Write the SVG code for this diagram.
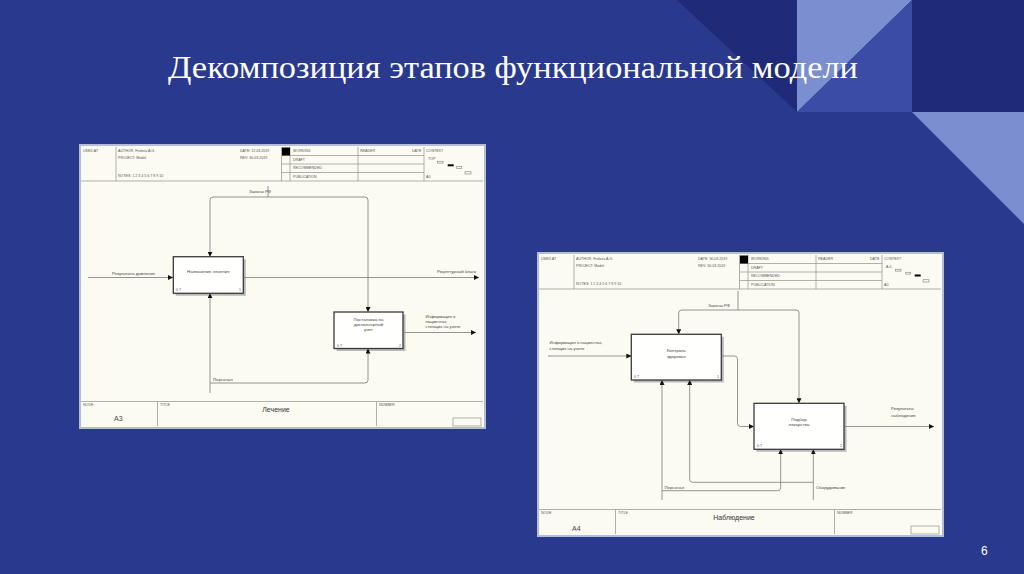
<svg xmlns="http://www.w3.org/2000/svg" width="1024" height="574" viewBox="0 0 1024 574">
<defs>
<style>
.bg{fill:#29398d}
.dk{fill:#1f2b78}
.lt{fill:#7a8ed0}
.md{fill:#3a4ca6}
.title{font-family:"Liberation Serif","Times New Roman",serif;font-size:32px;fill:#ffffff}
.pg{font-family:"Liberation Sans",Arial,sans-serif;font-size:12px;fill:#ffffff}
.sheet{fill:#fcfbf2;stroke:#b4bdd8;stroke-width:2}
.fl{stroke:#8f8f8f;stroke-width:0.7;fill:none}
.tiny{font-family:"Liberation Sans",Arial,sans-serif;font-size:4px;fill:#666}
.node{font-family:"Liberation Sans",Arial,sans-serif;font-size:7px;fill:#444}
.ttl{font-family:"Liberation Sans",Arial,sans-serif;font-size:7px;fill:#333;text-anchor:middle}
.box{fill:#fffffd;stroke:#3a3a3a;stroke-width:1.3}
.shadow{fill:#b9b9b9}
.bl{font-family:"Liberation Sans",Arial,sans-serif;font-size:4.4px;fill:#444;text-anchor:middle}
.cl{font-family:"Liberation Sans",Arial,sans-serif;font-size:3.6px;fill:#555}
.al{font-family:"Liberation Sans",Arial,sans-serif;font-size:4.3px;fill:#444}
.cn{fill:none;stroke:#7a7a7a;stroke-width:0.8}
</style>
<marker id="ah" markerUnits="userSpaceOnUse" markerWidth="5" markerHeight="5" refX="5" refY="2.5" orient="auto">
<path d="M0,0 L5,2.5 L0,5 z" fill="#111"/>
</marker>
</defs>

<rect class="bg" x="0" y="0" width="1024" height="574"/>
<g id="decor">
<polygon class="dk" points="677,0 797,0 797,112"/>
<polygon class="lt" points="797,0 912,0 797,112"/>
<polygon class="md" points="912,0 912,112 797,112"/>
<rect class="dk" x="912" y="0" width="112" height="112"/>
<polygon class="lt" points="912,112 1024,112 1024,224"/>
</g>

<text class="title" x="168" y="78" textLength="690" lengthAdjust="spacingAndGlyphs">Декомпозиция этапов функциональной модели</text>
<text class="pg" x="981" y="555">6</text>

<!-- Left diagram frame -->
<g id="frameA3">
<rect class="sheet" x="80" y="145" width="405" height="283"/>
<path class="fl" d="M81,181 H483 M116,147 V181 M281.5,147 V181 M290,147 V181 M358,147 V181 M424,147 V181 M281.5,155.5 H424 M281.5,164 H424 M281.5,172.5 H424 M81,401.5 H483 M157.5,401.5 V426 M376.5,401.5 V426"/>
<rect x="282" y="147.5" width="8" height="8" fill="#000"/>
<rect class="fl" x="453" y="418" width="28" height="8"/>
<rect class="fl" x="437.5" y="161.3" width="5.5" height="1.8"/>
<rect x="447.7" y="164.3" width="6" height="2" fill="#000"/>
<rect class="fl" x="456.7" y="166.5" width="5" height="2"/>
<rect class="fl" x="465" y="171.7" width="6" height="2.3"/>
<text class="cl" x="83" y="152">USED AT</text>
<text class="cl" x="118" y="152">AUTHOR: Frolova A.G.</text>
<text class="cl" x="118" y="159">PROJECT: Model</text>
<text class="cl" x="118" y="177">NOTES: 1 2 3 4 5 6 7 8 9 10</text>
<text class="cl" x="240" y="152">DATE: 12.03.2019</text>
<text class="cl" x="240" y="159">REV: 30.03.2019</text>
<text class="cl" x="293" y="152">WORKING</text>
<text class="cl" x="293" y="160.5">DRAFT</text>
<text class="cl" x="293" y="169">RECOMMENDED</text>
<text class="cl" x="293" y="177.5">PUBLICATION</text>
<text class="cl" x="360" y="152">READER</text>
<text class="cl" x="412" y="152">DATE</text>
<text class="cl" x="426" y="152">CONTEXT</text>
<text class="cl" x="428" y="160">TOP</text>
<text class="cl" x="426" y="178">A0</text>
<text class="cl" x="83" y="406">NODE</text>
<text class="cl" x="160" y="406">TITLE</text>
<text class="cl" x="379" y="406">NUMBER</text>
<text class="node" x="114" y="421">A3</text>
<text class="ttl" x="276" y="412">Лечение</text>
</g>

<!-- Right diagram frame -->
<g id="frameA4" transform="translate(458,108)">
<rect class="sheet" x="80" y="145" width="405" height="283"/>
<path class="fl" d="M81,181 H483 M116,147 V181 M281.5,147 V181 M290,147 V181 M358,147 V181 M424,147 V181 M281.5,155.5 H424 M281.5,164 H424 M281.5,172.5 H424 M81,401.5 H483 M157.5,401.5 V426 M376.5,401.5 V426"/>
<rect x="282" y="147.5" width="8" height="8" fill="#000"/>
<rect class="fl" x="453" y="418" width="28" height="8"/>
<rect class="fl" x="437.5" y="161.3" width="5.5" height="1.8"/>
<rect class="fl" x="447.7" y="164.3" width="5" height="1.8"/>
<rect x="456.7" y="166.5" width="6" height="2" fill="#000"/>
<rect class="fl" x="465" y="171.7" width="6" height="2.3"/>
<text class="cl" x="83" y="152">USED AT</text>
<text class="cl" x="118" y="152">AUTHOR: Frolova A.G.</text>
<text class="cl" x="118" y="159">PROJECT: Model</text>
<text class="cl" x="118" y="177">NOTES: 1 2 3 4 5 6 7 8 9 10</text>
<text class="cl" x="240" y="152">DATE: 30.03.2019</text>
<text class="cl" x="240" y="159">REV: 30.03.2019</text>
<text class="cl" x="293" y="152">WORKING</text>
<text class="cl" x="293" y="160.5">DRAFT</text>
<text class="cl" x="293" y="169">RECOMMENDED</text>
<text class="cl" x="293" y="177.5">PUBLICATION</text>
<text class="cl" x="360" y="152">READER</text>
<text class="cl" x="412" y="152">DATE</text>
<text class="cl" x="426" y="152">CONTEXT</text>
<text class="cl" x="428" y="160">A-0</text>
<text class="cl" x="426" y="178">A0</text>
<text class="cl" x="83" y="406">NODE</text>
<text class="cl" x="160" y="406">TITLE</text>
<text class="cl" x="379" y="406">NUMBER</text>
<text class="node" x="114" y="423">A4</text>
<text class="ttl" x="276" y="412">Наблюдение</text>
</g>

<!-- Left nodes -->
<g id="nodeA31">
<rect class="shadow" x="175.8" y="259.2" width="70" height="36.6"/>
<rect class="box" x="173.3" y="256.7" width="70" height="36.6"/>
<text class="bl" x="208.3" y="273">Назначение лечения</text>
<text class="cl" x="176" y="291">0 Т</text>
<text class="cl" x="239" y="291">1</text>
</g>
<g id="nodeA32">
<rect class="shadow" x="336.5" y="314.5" width="69" height="36.5"/>
<rect class="box" x="334" y="312" width="69" height="36.5"/>
<text class="bl" x="368.5" y="321">Постановка на</text>
<text class="bl" x="368.5" y="326">диспансерный</text>
<text class="bl" x="368.5" y="331">учет</text>
<text class="cl" x="337" y="346.5">0 Т</text>
<text class="cl" x="399" y="346.5">2</text>
</g>

<!-- Right nodes -->
<g id="nodeA41">
<rect class="shadow" x="633.8" y="336.8" width="90" height="45.7"/>
<rect class="box" x="631.3" y="334.3" width="90" height="45.7"/>
<text class="bl" x="676.3" y="352">Контроль</text>
<text class="bl" x="676.3" y="357.5">здоровья</text>
<text class="cl" x="634" y="378">0 Т</text>
<text class="cl" x="717" y="378">1</text>
</g>
<g id="nodeA42">
<rect class="shadow" x="756.5" y="405.8" width="90" height="46"/>
<rect class="box" x="754" y="403.3" width="90" height="46"/>
<text class="bl" x="799" y="420.5">Подбор</text>
<text class="bl" x="799" y="426">лекарства</text>
<text class="cl" x="757" y="447">0 Т</text>
<text class="cl" x="840" y="447">2</text>
</g>

<!-- Connectors -->
<g id="connectors">
<path class="cn" d="M88,277.5 H173" marker-end="url(#ah)"/>
<path class="cn" d="M243.3,277.5 H479" marker-end="url(#ah)"/>
<path class="cn" d="M268,186 V197"/>
<path class="cn" d="M240,197 H213 Q210,197 210,200 V256.7" marker-end="url(#ah)"/>
<path class="cn" d="M240,197 H365 Q368,197 368,200 V312" marker-end="url(#ah)"/>
<path class="cn" d="M403,332.5 H476" marker-end="url(#ah)"/>
<path class="cn" d="M210,393 V293.3" marker-end="url(#ah)"/>
<path class="cn" d="M210,383 H365 Q368,383 368,380 V348.5" marker-end="url(#ah)"/>

<path class="cn" d="M548,356 H631.3" marker-end="url(#ah)"/>
<path class="cn" d="M721.3,356 H734.5 Q737.5,356 737.5,359 V423.5 Q737.5,426.5 740.5,426.5 H754" marker-end="url(#ah)"/>
<path class="cn" d="M738,291 V310"/>
<path class="cn" d="M738,310 H681.7 Q678.7,310 678.7,313 V334.3" marker-end="url(#ah)"/>
<path class="cn" d="M738,310 H796 Q799,310 799,313 V403.3" marker-end="url(#ah)"/>
<path class="cn" d="M844,426.5 H934" marker-end="url(#ah)"/>
<path class="cn" d="M662,500 V380" marker-end="url(#ah)"/>
<path class="cn" d="M662,490.7 H777.7 Q780.7,490.7 780.7,487.7 V449.3" marker-end="url(#ah)"/>
<path class="cn" d="M813.3,500 V449.3" marker-end="url(#ah)"/>
<path class="cn" d="M813.3,482.3 H692.7 Q689.7,482.3 689.7,479.3 V380" marker-end="url(#ah)"/>

<text class="al" x="112" y="274.5">Результаты давления</text>
<text class="al" x="437" y="273">Рецептурный бланк</text>
<text class="al" x="249" y="193">Законы РФ</text>
<text class="al" x="425.5" y="318">Информация о</text>
<text class="al" x="425.5" y="322.8">пациентах,</text>
<text class="al" x="425.5" y="327.6">стоящих на учете</text>
<text class="al" x="213" y="381">Персонал</text>

<text class="al" x="549.5" y="344">Информация о пациентах,</text>
<text class="al" x="549.5" y="350">стоящих на учете</text>
<text class="al" x="708" y="306.5">Законы РФ</text>
<text class="al" x="891" y="410">Результаты</text>
<text class="al" x="891" y="416.5">наблюдения</text>
<text class="al" x="664.5" y="489">Персонал</text>
<text class="al" x="816" y="489">Оборудование</text>
</g>
</svg>
